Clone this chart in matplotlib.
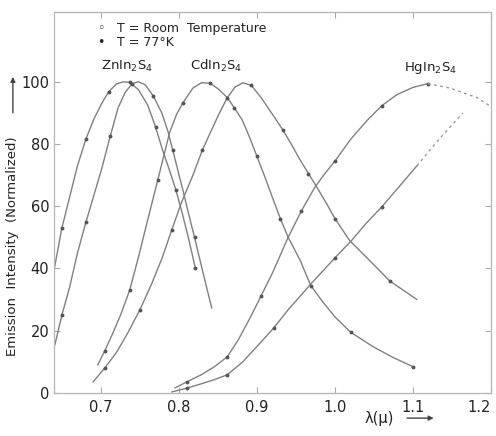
import numpy as np
import matplotlib
matplotlib.use("Agg")
import matplotlib.pyplot as plt

# ZnIn2S4 pair
zn_a_x = [0.640, 0.650, 0.660, 0.670, 0.681, 0.691, 0.701, 0.710, 0.720, 0.729, 0.737, 0.748,
          0.760, 0.770, 0.779, 0.788, 0.796, 0.804, 0.812, 0.821]
zn_a_y = [39.5, 53, 63, 73, 81.7, 88, 93, 96.8, 99.3, 100, 99.8, 97.5,
          92.5, 85.5, 78.1, 71.5, 65.3, 58, 50, 40.2]
zn_b_x = [0.641, 0.650, 0.660, 0.670, 0.681, 0.691, 0.701, 0.712, 0.722, 0.731, 0.740, 0.748,
          0.757, 0.767, 0.778, 0.786, 0.792, 0.805, 0.813, 0.820, 0.831, 0.842]
zn_b_y = [15.4, 25, 34, 45, 55, 63.5, 72, 82.5, 91.6, 96.5, 99.4, 100,
          99, 95.5, 90, 84, 78.1, 65.3, 57, 50, 38.5, 27.3]

# CdIn2S4 pair
cd_a_x = [0.696, 0.705, 0.715, 0.726, 0.737, 0.748, 0.760, 0.773, 0.788, 0.797, 0.805, 0.818,
          0.829, 0.840, 0.851, 0.862, 0.871, 0.881, 0.890, 0.900, 0.910, 0.920, 0.930, 0.940,
          0.955, 0.969, 0.985, 1.000, 1.020, 1.049, 1.075, 1.100]
cd_a_y = [9, 13.5, 19, 25.5, 33.1, 43.5, 55.6, 68.5, 83.6, 89.5, 93.2, 98,
          99.7, 99.5, 97.6, 94.9, 91.6, 87.8, 82.5, 76, 69.5, 62.7, 56, 50,
          42.8, 34.5, 29, 24.4, 19.5, 14.8, 11.3, 8.4]
cd_b_x = [0.690, 0.705, 0.720, 0.735, 0.750, 0.765, 0.779, 0.791, 0.803, 0.818, 0.830, 0.842,
          0.852, 0.862, 0.872, 0.882, 0.893, 0.905, 0.920, 0.933, 0.945, 0.955, 0.966, 0.977,
          0.990, 1.000, 1.019, 1.041, 1.070, 1.105]
cd_b_y = [3.5, 8, 13, 19.5, 26.7, 35, 43.7, 52.5, 61, 70, 78, 84.6,
          90, 94.9, 98.3, 99.7, 98.8, 95, 89.5, 84.6, 79.5, 75, 70.5, 66,
          60.5, 56, 48.9, 43.4, 36, 30]

# HgIn2S4 pair (solid part, then dotted extrapolation)
hg_a_x = [0.795, 0.810, 0.830, 0.846, 0.862, 0.876, 0.891, 0.905, 0.920, 0.940, 0.957, 0.974,
          0.987, 1.000, 1.020, 1.042, 1.060, 1.079, 1.100, 1.119]
hg_a_y = [1.6, 3.5, 6, 8.5, 11.6, 17, 24, 31, 38.6, 50, 58.5, 66,
          70.5, 74.5, 81.5, 87.8, 92.3, 95.8, 98.2, 99.4]
hg_a_ext_x = [1.119, 1.147, 1.182, 1.200]
hg_a_ext_y = [99.4, 98, 94.9, 92]
hg_b_x = [0.791, 0.810, 0.830, 0.846, 0.862, 0.882, 0.904, 0.922, 0.940, 0.968, 1.000, 1.021,
          1.040, 1.060, 1.083, 1.105]
hg_b_y = [0.3, 1.5, 3, 4.3, 5.8, 10, 16, 21, 26.7, 34.7, 43.4, 48.9,
          54.5, 59.8, 66.5, 73]
hg_b_ext_x = [1.105, 1.135, 1.164]
hg_b_ext_y = [73, 82, 90]

x_ticks = [0.7, 0.8, 0.9, 1.0, 1.1, 1.2]
x_tick_labels = ["0.7", "0.8", "0.9", "1.0", "1.1", "1.2"]
y_ticks = [0, 20, 40, 60, 80, 100]

line_col = "#808080"
txt_col = "#222222"

fig = plt.figure(figsize=(4.96, 4.36), dpi=100)
ax = fig.add_axes([0.109, 0.099, 0.881, 0.874])

curves = [(zn_a_x, zn_a_y), (zn_b_x, zn_b_y), (cd_a_x, cd_a_y),
          (cd_b_x, cd_b_y), (hg_a_x, hg_a_y), (hg_b_x, hg_b_y)]
for xs, ys in curves:
    ax.plot(xs, ys, color=line_col, lw=1.0, marker="o", ms=1.8,
            mfc="#555555", mec="#555555", markevery=(1, 3))

ax.plot(hg_a_ext_x, hg_a_ext_y, color="#9a9a9a", lw=1.0, ls=(0, (2, 2.5)))
ax.plot(hg_b_ext_x, hg_b_ext_y, color="#9a9a9a", lw=1.0, ls=(0, (2, 2.5)))

ax.set_xlim(0.64, 1.2)
ax.set_ylim(0, 122.5)
ax.set_xticks(x_ticks)
ax.set_xticklabels(x_tick_labels)
ax.set_yticks(y_ticks)
ax.tick_params(direction="in", top=True, right=True, length=4, width=0.8,
               colors="#aaaaaa", labelcolor=txt_col, labelsize=10.5)
ax.tick_params(axis="x", pad=5)
ax.get_xticklabels()[-1].set_horizontalalignment("right")
for s in ax.spines.values():
    s.set_color("#b5b5b5")
    s.set_linewidth(0.9)

# legend text
ax.text(0.700, 117, "\u25e6", fontsize=9, color=txt_col, ha="center", va="center")
ax.text(0.700, 112.5, "\u2022", fontsize=9, color=txt_col, ha="center", va="center")
ax.text(0.721, 117, "T = Room  Temperature", fontsize=9, color=txt_col, va="center")
ax.text(0.721, 112.5, "T = 77°K", fontsize=9, color=txt_col, va="center")

# compound labels
ax.text(0.733, 105, "ZnIn$_2$S$_4$", fontsize=9.5, color=txt_col, ha="center", va="center")
ax.text(0.848, 105, "CdIn$_2$S$_4$", fontsize=9.5, color=txt_col, ha="center", va="center")
ax.text(1.122, 104.5, "HgIn$_2$S$_4$", fontsize=9.5, color=txt_col, ha="center", va="center")

# axis labels with arrows
fig.text(0.026, 0.435, "Emission  Intensity  (Normalized)", rotation=90,
         fontsize=9.5, color=txt_col, ha="center", va="center")
fig.patches.append(matplotlib.patches.FancyArrowPatch(
    (0.026, 0.735), (0.026, 0.83), transform=fig.transFigure,
    arrowstyle="-|>", mutation_scale=7, color="#444444", lw=1.0))
fig.text(0.765, 0.041, "\u03bb(\u03bc)", fontsize=10.5, color=txt_col,
         ha="center", va="center")
fig.patches.append(matplotlib.patches.FancyArrowPatch(
    (0.815, 0.041), (0.88, 0.041), transform=fig.transFigure,
    arrowstyle="-|>", mutation_scale=7, color="#444444", lw=1.0))

fig.savefig("out.png", dpi=100)
